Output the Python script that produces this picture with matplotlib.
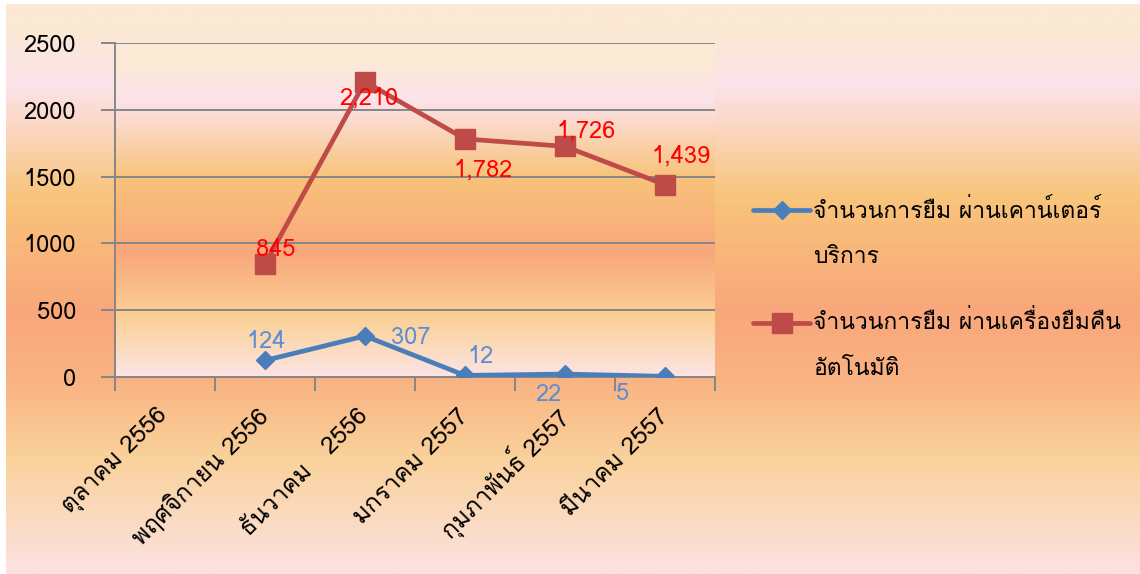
import numpy as np
import matplotlib
matplotlib.use("Agg")
import matplotlib.pyplot as plt
from matplotlib import font_manager, ft2font
from matplotlib.colors import LinearSegmentedColormap
from matplotlib.lines import Line2D

# ---------------- data ----------------
categories = ["ตุลาคม 2556", "พฤศจิกายน 2556", "ธันวาคม   2556",
              "มกราคม 2557", "กุมภาพันธ์ 2557", "มีนาคม 2557"]
counter_values = [None, 124, 307, 12, 22, 5]
machine_values = [None, 845, 2210, 1782, 1726, 1439]
counter_name = ["จำนวนการยืม ผ่านเคาน์เตอร์", "บริการ"]
machine_name = ["จำนวนการยืม ผ่านเครื่องยืมคืน", "อัตโนมัติ"]
y_ticks = [0, 500, 1000, 1500, 2000, 2500]

# label offsets (pixels) for each data label
counter_offsets = [None, (1, 12), (46, -8), (16, 12), (-17, -27), (-42, -24)]
machine_offsets = [None, (11, 8), (4, -23), (18, -38), (21, 9), (16, 22)]

# ---------------- font ----------------
def thai_fonts():
    out = set()
    for f in font_manager.fontManager.ttflist:
        if f.name in out:
            continue
        try:
            cm = ft2font.FT2Font(f.fname).get_charmap()
        except Exception:
            continue
        if 0x0E08 in cm and 0x0E33 in cm and 0x0E21 in cm:
            out.add(f.name)
    return sorted(out)

cands = thai_fonts()
pref = ["Tahoma", "Leelawadee UI", "Leelawadee", "Loma", "Noto Sans Thai Looped",
        "IBM Plex Sans Thai Looped", "Noto Sans Thai", "Sarabun", "Garuda", "DejaVu Sans"]
thai = None
for p in pref:
    if p in cands:
        thai = p
        break
if thai is None and cands:
    thai = cands[0]
families = ([thai] if thai else []) + ["DejaVu Sans"]
plt.rcParams["font.family"] = families

FS_LEG = 16.5
FS_TICK = 17.5
FS_NUM = 17

W, H = 1140, 574
fig = plt.figure(figsize=(W / 100, H / 100), dpi=100, facecolor="white")

def px(x, y):
    return x / W, 1 - y / H

# ---------------- backgrounds ----------------
fig_cmap = LinearSegmentedColormap.from_list("figbg", [
    (0.00, "#FBE9D3"), (0.04, "#FBE9D3"), (0.14, "#FCE3EB"),
    (0.34, "#F8C47A"), (0.54, "#F9A77B"), (0.66, "#F9B382"), (0.80, "#FAD29C"),
    (1.00, "#FCE2E2")])
plot_cmap = LinearSegmentedColormap.from_list("plotbg", [
    (0.00, "#FBEAD5"), (0.05, "#FBEAD5"), (0.17, "#FCE3EB"),
    (0.40, "#F8C37A"), (0.63, "#F9A77B"), (0.82, "#FBD095"), (1.00, "#FCE4E3")])
grad = np.linspace(0, 1, 600).reshape(-1, 1)

bg = fig.add_axes([6 / W, 0, 1 - 6 / W, 1 - 4 / H], zorder=-10)
bg.imshow(grad, cmap=fig_cmap, aspect="auto", extent=(0, 1, 0, 1), origin="upper")
bg.axis("off")

left, right, top, bottom = 115, 715, 43, 377
pos = [left / W, 1 - bottom / H, (right - left) / W, (bottom - top) / H]
pa = fig.add_axes(pos, zorder=-5)
pa.imshow(grad, cmap=plot_cmap, aspect="auto", extent=(0, 1, 0, 1), origin="upper")
pa.axis("off")

ax = fig.add_axes(pos, zorder=0)
ax.set_facecolor("none")

# ---------------- series ----------------
x = np.arange(len(categories))
blue = "#4A7EBB"
red = "#BE4B48"
cv = np.array([np.nan if v is None else v for v in counter_values], float)
mv = np.array([np.nan if v is None else v for v in machine_values], float)
ax.plot(x, cv, color=blue, lw=3.4, marker="D", ms=9.5, mfc=blue, mec=blue, zorder=5,
        solid_capstyle="round")
ax.plot(x, mv, color=red, lw=3.4, marker="s", ms=14, mfc=red, mec=red, zorder=5,
        solid_capstyle="round")

for xi, v, off in zip(x, counter_values, counter_offsets):
    if v is None:
        continue
    ax.annotate(f"{v:,}", (xi, v), xytext=off, textcoords="offset pixels",
                ha="center", va="baseline", color="#5B8ED3", fontsize=FS_NUM, zorder=6)
for xi, v, off in zip(x, machine_values, machine_offsets):
    if v is None:
        continue
    ax.annotate(f"{v:,}", (xi, v), xytext=off, textcoords="offset pixels",
                ha="center", va="baseline", color="#FF0000", fontsize=FS_NUM, zorder=6)

# ---------------- axes ----------------
grid_c = "#868686"
ax.set_xlim(-0.5, len(categories) - 0.5)
ax.set_ylim(y_ticks[0], y_ticks[-1])
ax.set_yticks(y_ticks)
ax.set_yticklabels([str(t) for t in y_ticks])
ax.yaxis.grid(True, color=grid_c, lw=1.4)
ax.set_axisbelow(True)
ax.tick_params(axis="y", length=10, width=1.4, color=grid_c, pad=18, labelsize=FS_NUM,
               labelcolor="black")
ax.set_xticks(np.arange(-0.5, len(categories), 1.0))
ax.set_xticklabels([])
ax.tick_params(axis="x", which="major", length=10, width=1.4, color=grid_c, direction="out")
ax.set_xticks(x, minor=True)
ax.set_xticklabels(categories, minor=True, rotation=45, ha="right",
                   rotation_mode="anchor", va="center", fontsize=FS_TICK)
ax.tick_params(axis="x", which="minor", length=0, pad=25.5)
for s in ["top", "right"]:
    ax.spines[s].set_visible(False)
for s in ["left", "bottom"]:
    ax.spines[s].set_color(grid_c)
    ax.spines[s].set_linewidth(1.4)

# ---------------- legend (manual) ----------------
def legend_item(y_handle, y_base1, y_base2, color, marker, ms, lines):
    x0, y0 = px(753, y_handle)
    x1, _ = px(810, y_handle)
    fig.add_artist(Line2D([x0, x1], [y0, y0], transform=fig.transFigure, color=color,
                          lw=3.4, solid_capstyle="round"))
    fig.add_artist(Line2D([(x0 + x1) / 2], [y0], transform=fig.transFigure, color=color,
                          marker=marker, ms=ms, mfc=color, mec=color, lw=0))
    tx, ty1 = px(813, y_base1)
    _, ty2 = px(813, y_base2)
    fig.text(tx, ty1, lines[0], fontsize=FS_LEG, va="baseline", ha="left", color="black")
    fig.text(tx, ty2, lines[1], fontsize=FS_LEG, va="baseline", ha="left", color="black")

legend_item(210, 218, 263, blue, "D", 9.5, counter_name)
legend_item(323, 329, 375, red, "s", 14, machine_name)

fig.savefig("out.png", dpi=100)
